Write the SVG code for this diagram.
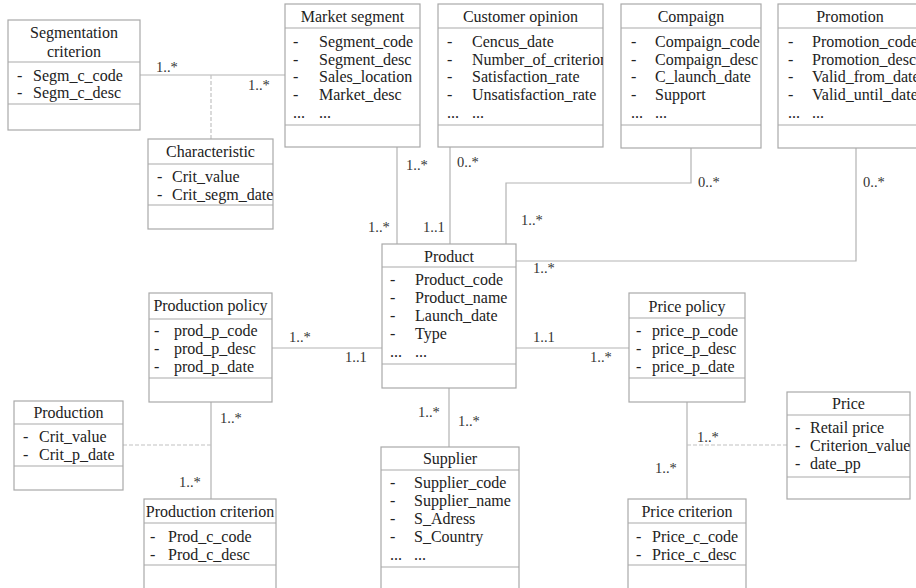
<svg xmlns="http://www.w3.org/2000/svg" width="916" height="588" viewBox="0 0 916 588">
<style>
.bg{fill:#fff}
.box{fill:#fff;stroke:#a9a9a9;stroke-width:1.2}
.sep{fill:none;stroke:#a9a9a9;stroke-width:1.2}
text{font-family:"Liberation Serif","Times New Roman",serif;font-size:16px;fill:#222}
.ti{text-anchor:middle}
.m{font-size:14.5px;fill:#333}
.ln{fill:none;stroke:#b3b3b3;stroke-width:1.2}
.ds{fill:none;stroke:#c2c2c2;stroke-width:1.2;stroke-dasharray:4 2}
</style>
<defs>
<clipPath id="cCh"><rect x="148" y="139" width="125" height="90"/></clipPath>
<clipPath id="cCo"><rect x="438" y="4" width="165" height="143"/></clipPath>
<clipPath id="cPr"><rect x="787" y="392" width="123" height="107"/></clipPath>
</defs>
<rect class="bg" x="0" y="0" width="916" height="588"/>

<g id="connectors">
<path class="ln" d="M140,75 H285"/>
<path class="ds" d="M211,75 V139"/>
<path class="ln" d="M397,147 V244"/>
<path class="ln" d="M450,147 V244"/>
<path class="ln" d="M691,148 V183 H506 V244"/>
<path class="ln" d="M856,148 V261 H516"/>
<path class="ln" d="M272,348 H382"/>
<path class="ln" d="M516,348 H629"/>
<path class="ln" d="M211,402 V499"/>
<path class="ds" d="M123,445 H211"/>
<path class="ln" d="M449,388 V447"/>
<path class="ln" d="M687,402 V499"/>
<path class="ds" d="M687,445 H787"/>
<text class="m" x="156" y="72">1..*</text>
<text class="m" x="248" y="90">1..*</text>
<text class="m" x="406" y="170">1..*</text>
<text class="m" x="368" y="232">1..*</text>
<text class="m" x="457" y="167">0..*</text>
<text class="m" x="423" y="232">1..1</text>
<text class="m" x="698" y="187">0..*</text>
<text class="m" x="521" y="225">1..*</text>
<text class="m" x="863" y="187">0..*</text>
<text class="m" x="533" y="273">1..*</text>
<text class="m" x="289" y="342">1..*</text>
<text class="m" x="345" y="362">1..1</text>
<text class="m" x="533" y="342">1..1</text>
<text class="m" x="590" y="362">1..*</text>
<text class="m" x="220" y="423">1..*</text>
<text class="m" x="179" y="487">1..*</text>
<text class="m" x="418" y="417">1..*</text>
<text class="m" x="458" y="426">1..*</text>
<text class="m" x="697" y="442">1..*</text>
<text class="m" x="655" y="473">1..*</text>
</g>

<g id="segmentation-criterion">
<rect class="box" x="8" y="20" width="132" height="110"/>
<path class="sep" d="M8,62 H140 M8,104 H140"/>
<text class="ti" x="74" y="38">Segmentation</text>
<text class="ti" x="74" y="57">criterion</text>
<text x="17" y="81">-</text><text x="33" y="81">Segm_c_code</text>
<text x="17" y="98">-</text><text x="33" y="98">Segm_c_desc</text>
</g>

<g id="characteristic">
<rect class="box" x="148" y="139" width="125" height="90"/>
<path class="sep" d="M148,164 H273 M148,205 H273"/>
<text class="ti" x="210.5" y="157">Characteristic</text>
<g clip-path="url(#cCh)">
<text x="157" y="182">-</text><text x="172" y="182">Crit_value</text>
<text x="157" y="200">-</text><text x="172" y="200">Crit_segm_date</text>
</g>
</g>

<g id="market-segment">
<rect class="box" x="285" y="4" width="135" height="143"/>
<path class="sep" d="M285,28 H420 M285,125 H420"/>
<text class="ti" x="352.5" y="22">Market segment</text>
<text x="293" y="47">-</text><text x="319" y="47">Segment_code</text>
<text x="293" y="65">-</text><text x="319" y="65">Segment_desc</text>
<text x="293" y="82">-</text><text x="319" y="82">Sales_location</text>
<text x="293" y="100">-</text><text x="319" y="100">Market_desc</text>
<text x="293" y="118">...</text><text x="319" y="118">...</text>
</g>

<g id="customer-opinion">
<rect class="box" x="438" y="4" width="165" height="143"/>
<path class="sep" d="M438,28 H603 M438,125 H603"/>
<text class="ti" x="520.5" y="22">Customer opinion</text>
<g clip-path="url(#cCo)">
<text x="447" y="47">-</text><text x="472" y="47">Cencus_date</text>
<text x="447" y="65">-</text><text x="472" y="65">Number_of_criterion</text>
<text x="447" y="82">-</text><text x="472" y="82">Satisfaction_rate</text>
<text x="447" y="100">-</text><text x="472" y="100">Unsatisfaction_rate</text>
<text x="447" y="118">...</text><text x="472" y="118">...</text>
</g>
</g>

<g id="compaign">
<rect class="box" x="621" y="4" width="140" height="144"/>
<path class="sep" d="M621,28 H761 M621,125 H761"/>
<text class="ti" x="691" y="22">Compaign</text>
<text x="631" y="47">-</text><text x="655" y="47">Compaign_code</text>
<text x="631" y="65">-</text><text x="655" y="65">Compaign_desc</text>
<text x="631" y="82">-</text><text x="655" y="82">C_launch_date</text>
<text x="631" y="100">-</text><text x="655" y="100">Support</text>
<text x="631" y="118">...</text><text x="655" y="118">...</text>
</g>

<g id="promotion">
<rect class="box" x="778" y="4" width="146" height="144"/>
<path class="sep" d="M778,28 H924 M778,125 H924"/>
<text class="ti" x="850" y="22">Promotion</text>
<text x="788" y="47">-</text><text x="812" y="47">Promotion_code</text>
<text x="788" y="65">-</text><text x="812" y="65">Promotion_desc</text>
<text x="788" y="82">-</text><text x="812" y="82">Valid_from_date</text>
<text x="788" y="100">-</text><text x="812" y="100">Valid_until_date</text>
<text x="788" y="118">...</text><text x="812" y="118">...</text>
</g>

<g id="product">
<rect class="box" x="382" y="244" width="134" height="144"/>
<path class="sep" d="M382,267 H516 M382,364 H516"/>
<text class="ti" x="449" y="262">Product</text>
<text x="390" y="285">-</text><text x="415" y="285">Product_code</text>
<text x="390" y="303">-</text><text x="415" y="303">Product_name</text>
<text x="390" y="321">-</text><text x="415" y="321">Launch_date</text>
<text x="390" y="339">-</text><text x="415" y="339">Type</text>
<text x="390" y="357">...</text><text x="415" y="357">...</text>
</g>

<g id="production-policy">
<rect class="box" x="149" y="293" width="123" height="109"/>
<path class="sep" d="M149,319 H272 M149,378 H272"/>
<text class="ti" x="210.5" y="311">Production policy</text>
<text x="154" y="336">-</text><text x="174" y="336">prod_p_code</text>
<text x="154" y="354">-</text><text x="174" y="354">prod_p_desc</text>
<text x="154" y="372">-</text><text x="174" y="372">prod_p_date</text>
</g>

<g id="production">
<rect class="box" x="14" y="401" width="109" height="89"/>
<path class="sep" d="M14,424 H123 M14,466 H123"/>
<text class="ti" x="68.5" y="418">Production</text>
<text x="23" y="442">-</text><text x="39" y="442">Crit_value</text>
<text x="23" y="460">-</text><text x="39" y="460">Crit_p_date</text>
</g>

<g id="production-criterion">
<rect class="box" x="144" y="499" width="132" height="95"/>
<path class="sep" d="M144,523 H276 M144,565 H276"/>
<text class="ti" x="210" y="517">Production criterion</text>
<text x="150" y="542">-</text><text x="168" y="542">Prod_c_code</text>
<text x="150" y="560">-</text><text x="168" y="560">Prod_c_desc</text>
</g>

<g id="supplier">
<rect class="box" x="381" y="447" width="138" height="147"/>
<path class="sep" d="M381,470 H519 M381,567 H519"/>
<text class="ti" x="450" y="464">Supplier</text>
<text x="390" y="488">-</text><text x="414" y="488">Supplier_code</text>
<text x="390" y="506">-</text><text x="414" y="506">Supplier_name</text>
<text x="390" y="524">-</text><text x="414" y="524">S_Adress</text>
<text x="390" y="542">-</text><text x="414" y="542">S_Country</text>
<text x="390" y="560">...</text><text x="414" y="560">...</text>
</g>

<g id="price-policy">
<rect class="box" x="629" y="293" width="116" height="109"/>
<path class="sep" d="M629,318 H745 M629,378 H745"/>
<text class="ti" x="687" y="312">Price policy</text>
<text x="636" y="336">-</text><text x="652" y="336">price_p_code</text>
<text x="636" y="354">-</text><text x="652" y="354">price_p_desc</text>
<text x="636" y="372">-</text><text x="652" y="372">price_p_date</text>
</g>

<g id="price">
<rect class="box" x="787" y="392" width="123" height="107"/>
<path class="sep" d="M787,415 H910 M787,477 H910"/>
<text class="ti" x="848.5" y="409">Price</text>
<g clip-path="url(#cPr)">
<text x="795" y="433">-</text><text x="810" y="433">Retail price</text>
<text x="795" y="451">-</text><text x="810" y="451">Criterion_value</text>
<text x="795" y="469">-</text><text x="810" y="469">date_pp</text>
</g>
</g>

<g id="price-criterion">
<rect class="box" x="628" y="499" width="118" height="95"/>
<path class="sep" d="M628,523 H746 M628,565 H746"/>
<text class="ti" x="687" y="517">Price criterion</text>
<text x="636" y="542">-</text><text x="652" y="542">Price_c_code</text>
<text x="636" y="560">-</text><text x="652" y="560">Price_c_desc</text>
</g>
</svg>
